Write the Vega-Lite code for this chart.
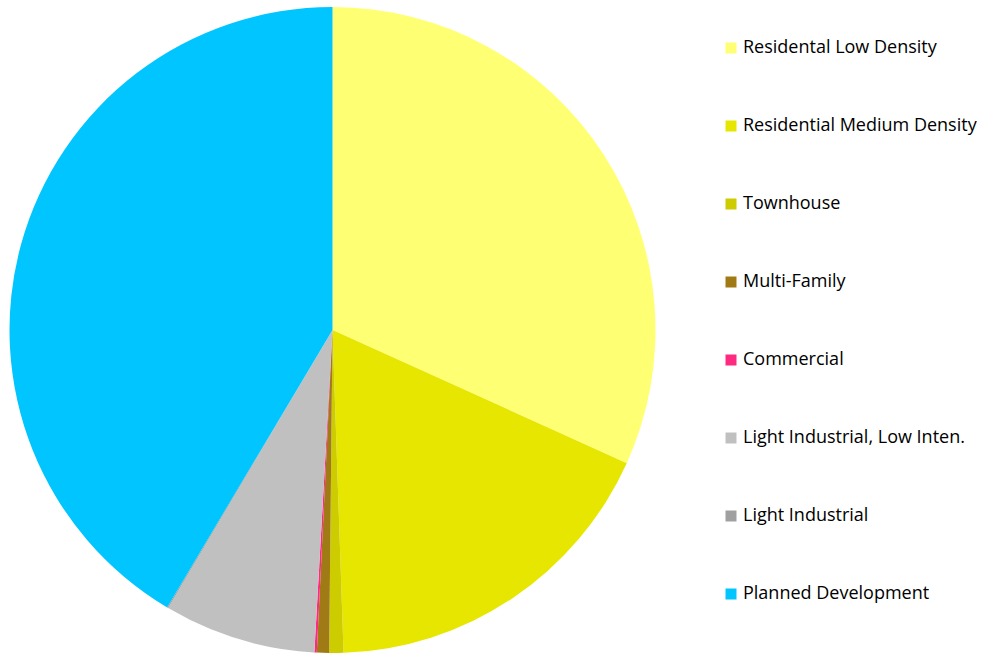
{
  "$schema": "https://vega.github.io/schema/vega-lite/v6.json",
  "width": 665,
  "height": 660,
  "padding": 0,
  "autosize": {"type": "pad"},
  "background": "white",
  "view": {"stroke": null},
  "data": {
    "values": [
      {"idx": 1, "category": "Residental Low Density", "share": 31.77},
      {"idx": 2, "category": "Residential Medium Density", "share": 17.69},
      {"idx": 3, "category": "Townhouse", "share": 0.71},
      {"idx": 4, "category": "Multi-Family", "share": 0.61},
      {"idx": 5, "category": "Commercial", "share": 0.12},
      {"idx": 6, "category": "Light Industrial, Low Inten.", "share": 7.6},
      {"idx": 7, "category": "Light Industrial", "share": 0.06},
      {"idx": 8, "category": "Planned Development", "share": 41.45}
    ]
  },
  "mark": {"type": "arc", "radius": 323, "stroke": null},
  "encoding": {
    "theta": {"field": "share", "type": "quantitative", "stack": true},
    "order": {"field": "idx", "type": "quantitative"},
    "color": {
      "field": "category",
      "type": "nominal",
      "scale": {
        "domain": ["Residental Low Density", "Residential Medium Density", "Townhouse", "Multi-Family", "Commercial", "Light Industrial, Low Inten.", "Light Industrial", "Planned Development"],
        "range": ["#FFFF73", "#E6E600", "#CCCC00", "#A07A14", "#FF2A80", "#C0C0C0", "#A0A0A0", "#00C5FF"]
      },
      "legend": {
        "title": null,
        "orient": "none",
        "legendX": 722,
        "legendY": 39,
        "padding": 0,
        "symbolType": "square",
        "symbolSize": 121,
        "symbolStrokeWidth": 0,
        "labelFont": "Open Sans",
        "labelFontSize": 18,
        "labelColor": "#000000",
        "labelOffset": 3,
        "rowPadding": 60,
        "labelLimit": 400
      }
    }
  }
}
